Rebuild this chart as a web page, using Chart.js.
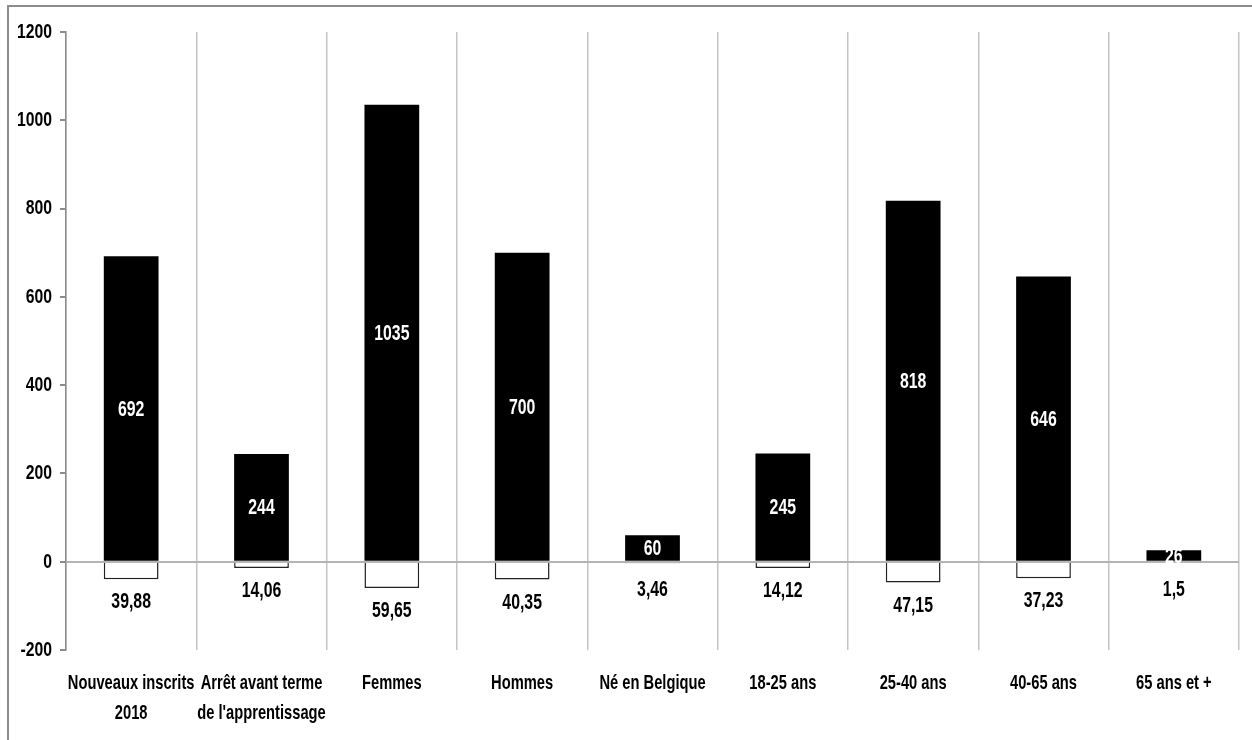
<!DOCTYPE html>
<html>
<head>
<meta charset="utf-8">
<script src="https://cdn.jsdelivr.net/npm/chart.js@4/dist/chart.umd.min.js"></script>
<style>
  html, body { margin: 0; padding: 0; background: #fff; }
  #frame { position: absolute; left: 7px; top: 5px; width: 1260px; height: 750px;
           border-top: 2px solid #8c8c8c; border-left: 2px solid #8c8c8c; }
  #wrap { position: absolute; left: 0; top: 0; width: 1252px; height: 740px; }
</style>
</head>
<body>
<div id="frame"></div>
<div id="wrap"><canvas id="barchart"></canvas></div>
<script>
const categories = [
    ['Nouveaux inscrits', '2018'],
    ['Arrêt avant terme', "de l'apprentissage"],
    'Femmes', 'Hommes', 'Né en Belgique',
    '18-25 ans', '25-40 ans', '40-65 ans', '65 ans et +'
];
const counts = [692, 244, 1035, 700, 60, 245, 818, 646, 26];
const percents = [39.88, 14.06, 59.65, 40.35, 3.46, 14.12, 47.15, 37.23, 1.5];
const yTicks = [-200, 0, 200, 400, 600, 800, 1000, 1200];

const fontFamily = "'Liberation Sans', Arial, sans-serif";

// percentages are drawn downwards as white bars
const percentBars = percents.map(v => -v);

// narrow bold text (the original uses a condensed face)
function narrowText(ctx, text, x, y, size, squeeze, color, align) {
    ctx.save();
    ctx.font = 'bold ' + size + 'px ' + fontFamily;
    ctx.fillStyle = color;
    ctx.textAlign = align || 'center';
    ctx.textBaseline = 'middle';
    ctx.translate(x, y);
    ctx.scale(squeeze, 1);
    ctx.fillText(text, 0, 0);
    ctx.restore();
}

// draws the numbers on / under the bars and the axis labels
const barLabels = {
    id: 'barLabels',
    afterDatasetsDraw(chart) {
        const ctx = chart.ctx;
        const zero = chart.scales.y.getPixelForValue(0);
        chart.getDatasetMeta(0).data.forEach((bar, i) => {
            narrowText(ctx, String(counts[i]), bar.x, (bar.y + bar.base) / 2 + 1, 22, 0.72, '#fff');
        });
        chart.getDatasetMeta(1).data.forEach((bar, i) => {
            let y = Math.max(zero + 28, bar.y + 23);
            narrowText(ctx, String(percents[i]).replace('.', ','), bar.x, y, 22, 0.72, '#000');
        });
    },
    afterDraw(chart) {
        const ctx = chart.ctx;
        const xs = chart.scales.x, ys = chart.scales.y;
        categories.forEach((lab, i) => {
            const lines = Array.isArray(lab) ? lab : [lab];
            lines.forEach((t, k) => {
                narrowText(ctx, t, xs.getPixelForTick(i), xs.top + 33 + k * 30, 21, 0.70, '#000');
            });
        });
        yTicks.forEach(v => {
            narrowText(ctx, String(v), ys.right - 14, ys.getPixelForValue(v), 21, 0.75, '#000', 'right');
        });
    }
};

const ctx = document.getElementById('barchart').getContext('2d');
new Chart(ctx, {
    type: 'bar',
    data: {
        labels: categories,
        datasets: [{
            label: 'Nombre',
            data: counts,
            backgroundColor: '#000',
            borderWidth: 0,
            barPercentage: 0.42,
            categoryPercentage: 1
        }, {
            label: '%',
            data: percentBars,
            backgroundColor: '#fff',
            borderColor: '#222',
            borderWidth: 1.5,
            barPercentage: 0.42,
            categoryPercentage: 1
        }]
    },
    options: {
        responsive: true,
        maintainAspectRatio: false,
        animation: false,
        layout: {
            padding: { top: 32, right: 13, bottom: 12, left: 14 }
        },
        plugins: {
            legend: { display: false },
            tooltip: { enabled: false }
        },
        scales: {
            x: {
                stacked: true,
                border: { display: false },
                grid: {
                    offset: true,
                    color: '#c4c4c4',
                    lineWidth: 1.5,
                    drawTicks: false
                },
                ticks: {
                    color: 'rgba(0,0,0,0)',
                    maxRotation: 0,
                    autoSkip: false,
                    font: { family: fontFamily, size: 8 }
                },
                afterFit(axis) { axis.height = 78; }
            },
            y: {
                stacked: true,
                min: -200,
                max: 1200,
                afterBuildTicks(axis) {
                    axis.ticks = yTicks.map(v => ({ value: v }));
                },
                afterFit(axis) { axis.width = 52; },
                border: { display: true, color: '#8c8c8c', width: 1.5 },
                grid: {
                    color: c => (c.tick && c.tick.value === 0) ? '#b4b4b4' : 'rgba(0,0,0,0)',
                    tickColor: '#8c8c8c',
                    tickLength: 6,
                    lineWidth: 2
                },
                ticks: {
                    color: 'rgba(0,0,0,0)',
                    font: { family: fontFamily, size: 8 }
                }
            }
        }
    },
    plugins: [barLabels]
});
</script>
</body>
</html>
